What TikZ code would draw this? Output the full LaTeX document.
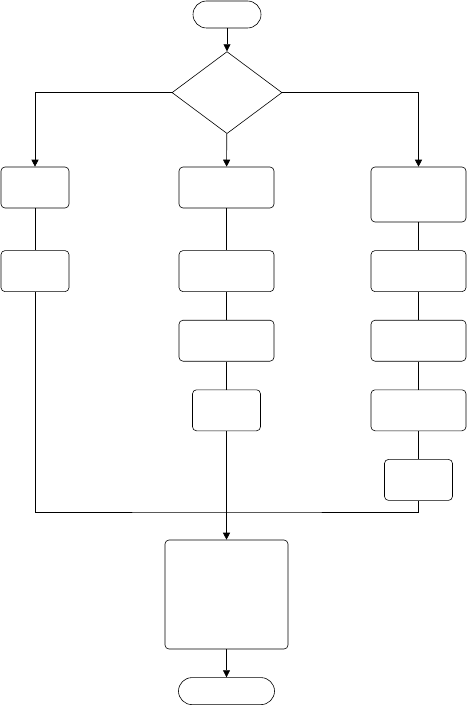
\documentclass[tikz,border=0pt]{standalone}
\usepackage{tikz}
\usetikzlibrary{arrows.meta, positioning, shapes.geometric}

\begin{document}
\begin{tikzpicture}[
  x=1pt, y=-1pt,
  node distance=28pt,
  box/.style={rectangle, draw, rounded corners=4pt, line width=0.6pt,
              minimum width=95pt, minimum height=41pt, inner sep=0pt},
  smallbox/.style={box, minimum width=68pt},
  term/.style={rectangle, draw, rounded corners=13.5pt, line width=0.6pt,
               minimum height=27pt, inner sep=0pt},
  decision/.style={diamond, draw, line width=0.6pt, inner sep=0pt,
                   minimum width=110pt, minimum height=82pt},
  arr/.style={-{Triangle[length=7pt, width=7pt]}, line width=0.6pt},
  line/.style={line width=0.6pt},
]
\useasboundingbox (0,0) rectangle (467,706);

% start and decision
\node[term, minimum width=68pt] (start) at (227,14.5) {};
\node[decision, below=23pt of start] (dec) {};

% left branch
\node[smallbox] (l1) at (35,187.5) {};
\node[smallbox, below=42pt of l1] (l2) {};

% middle branch
\node[box] (m1) at (226.5,187.5) {};
\node[box, below=42pt of m1] (m2) {};
\node[box, below=of m2] (m3) {};
\node[smallbox, below=of m3] (m4) {};

% right branch
\node[box, minimum height=55pt] (r1) at (418.5,194.5) {};
\node[box, below=of r1] (r2) {};
\node[box, below=of r2] (r3) {};
\node[box, below=of r3] (r4) {};
\node[smallbox, below=of r4] (r5) {};

% merge and end
\coordinate (join) at (227,512);
\node[box, minimum width=123pt, minimum height=109pt] (merge) at (226.5,594.5) {};
\node[term, minimum width=96pt, below=of merge] (stop) {};

\draw[arr] (start) -- (dec);
\draw[arr] (dec.west) -| (l1.north);
\draw[arr] (dec) -- (m1);
\draw[arr] (dec.east) -| (r1.north);

\draw[line] (l1) -- (l2);
\draw[line] (m1) -- (m2);
\draw[line] (m2) -- (m3);
\draw[line] (m3) -- (m4);
\draw[line] (r1) -- (r2);
\draw[line] (r2) -- (r3);
\draw[line] (r3) -- (r4);
\draw[line] (r4) -- (r5);

\draw[line] (l2.south) |- (join) -| (r5.south);
\draw[arr] (m4.south) -- (merge.north);
\draw[arr] (merge) -- (stop);
\end{tikzpicture}
\end{document}
